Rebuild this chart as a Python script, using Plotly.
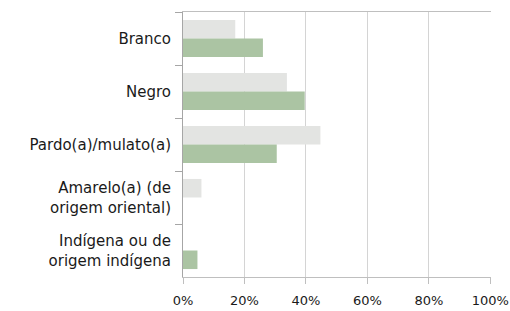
import plotly.graph_objects as go

categories = ["Branco", "Negro", "Pardo(a)/mulato(a)",
              "Amarelo(a) (de<br>origem oriental)", "Indígena ou de<br>origem indígena"]
series_gray = [17, 33.8, 44.7, 6.0, 0]
series_green = [26, 39.6, 30.5, 0, 4.7]
x_ticks = [0, 20, 40, 60, 80, 100]
x_tick_labels = ["0%", "20%", "40%", "60%", "80%", "100%"]

fig = go.Figure()
fig.add_trace(go.Bar(y=categories, x=series_gray, orientation="h",
                     marker=dict(color="#E3E4E2", line=dict(width=0)), name="A"))
fig.add_trace(go.Bar(y=categories, x=series_green, orientation="h",
                     marker=dict(color="#ABC4A3", line=dict(width=0)), name="B"))

fig.update_layout(
    width=510, height=311,
    margin=dict(l=183, r=19, t=12, b=34),
    barmode="group", bargap=0.3, bargroupgap=0,
    showlegend=False,
    plot_bgcolor="white", paper_bgcolor="white",
    font=dict(family="DejaVu Sans", size=14, color="#1a1a1a"),
)
fig.update_xaxes(
    range=[0, 100.2], tickvals=x_ticks, ticktext=x_tick_labels,
    showgrid=True, gridcolor="#D4D4D4", gridwidth=1,
    showline=True, linecolor="#BFBFBF", linewidth=1, mirror=True,
    ticks="outside", ticklen=6, tickcolor="#BFBFBF",
    zeroline=False, tickfont=dict(size=13), automargin=False,
    ticklabelstandoff=5,
)
fig.update_yaxes(
    categoryorder="array", categoryarray=categories, autorange="reversed",
    showline=True, linecolor="#A6A6A6", linewidth=1,
    ticks="outside", ticklen=7, tickcolor="#A6A6A6", tickson="boundaries",
    showgrid=False, ticklabelstandoff=8, tickfont=dict(size=15), automargin=False,
)

fig.write_html("out.html", config={"displayModeBar": False},
               post_script="document.body.style.margin='0';document.body.style.overflow='hidden';")
